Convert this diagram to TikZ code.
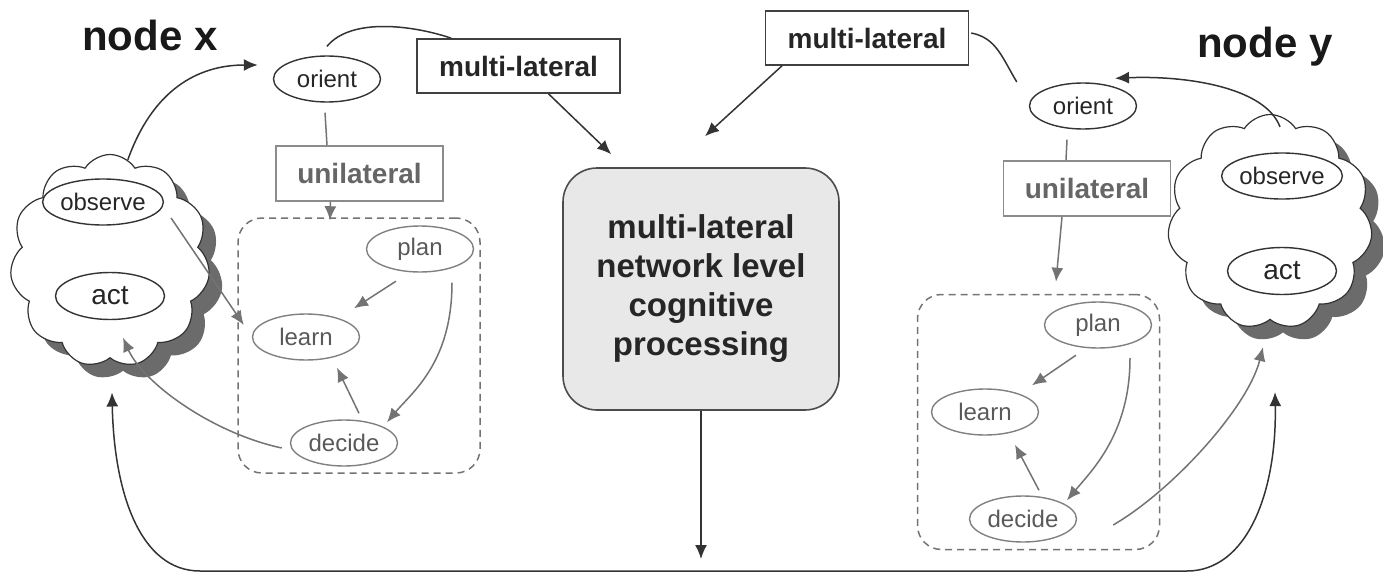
\documentclass[tikz,border=0pt]{standalone}
\usepackage{fontspec}
\setmainfont{Liberation Sans}
\usetikzlibrary{calc}
\usetikzlibrary{positioning}
\usetikzlibrary{arrows.meta}
\usetikzlibrary{shapes.geometric}
\usetikzlibrary{shapes.symbols}
\usetikzlibrary{shadows}

\begin{document}
\begin{tikzpicture}[x=0.5pt,y=-0.5pt,>={Latex[length=7pt,width=6pt]},
        blk/.style={draw=black!80,line width=0.75pt},
        gry/.style={draw=black!55,line width=0.75pt},
        oval/.style={ellipse,draw=black!80,line width=0.7pt,minimum width=53.5pt,minimum height=23pt,inner sep=0pt,font=\fontsize{12}{14}\selectfont,text=black!85},
        goval/.style={oval,draw=black!50,text=black!65},
        bigoval/.style={oval,minimum width=54.5pt,minimum height=23.5pt,font=\fontsize{14}{16}\selectfont},
        lbox/.style={rectangle,draw=black!75,line width=0.8pt,minimum width=101.5pt,minimum height=27pt,inner sep=0pt,font=\fontsize{14}{16}\selectfont\bfseries,text=black!85},
        ubox/.style={lbox,draw=black!45,text=black!60,minimum width=83.5pt,minimum height=27.5pt},
        cloudy/.style={cloud,cloud puffs=11,cloud puff arc=115,cloud ignores aspect,draw=black!80,line width=0.6pt,fill=white,inner sep=0pt,
            drop shadow={opacity=1,fill=black!58,shadow xshift=6.5pt,shadow yshift=-6.5pt}},
        dashbox/.style={rectangle,draw=black!55,dash pattern=on 3.5pt off 2.5pt,line width=0.75pt,rounded corners=12pt,minimum width=121pt,minimum height=127.5pt},
        title/.style={font=\fontsize{21}{24}\selectfont\bfseries,text=black!90,anchor=base}
    ]
    \useasboundingbox (0,0) rectangle (1383,573);

    % node x
    \node[cloudy,minimum width=100pt,minimum height=106.5pt] (cloudL) at (110,261) {};
    \node[oval] (observeL) at (103,202) {observe};
    \node[bigoval] (actL) at (110,296) {act};
    \node[oval] (orientL) at (327,79) {orient};
    \node[lbox] (mlL) at (518.5,66) {multi-lateral};
    \node[ubox] (uniL) at (359.5,173.5) {unilateral};
    \node[dashbox] (dashL) at (359,345.5) {};
    \node[goval] (planL) at (420,249) {plan};
    \node[goval] (learnL) at (306,337) {learn};
    \node[goval] (decideL) at (344,443) {decide};
    \node[title] (titleX) at (150,50) {node x};

    % node y
    \node[cloudy,minimum width=102.5pt,minimum height=107.5pt] (cloudR) at (1270,222) {};
    \node[oval] (observeR) at (1282,176) {observe};
    \node[bigoval] (actR) at (1282,271) {act};
    \node[oval] (orientR) at (1083,106) {orient};
    \node[lbox] (mlR) at (867,38) {multi-lateral};
    \node[ubox] (uniR) at (1087,188.5) {unilateral};
    \node[dashbox] (dashR) at (1038.5,422) {};
    \node[goval] (planR) at (1098,325) {plan};
    \node[goval] (learnR) at (985,412) {learn};
    \node[goval] (decideR) at (1023,519) {decide};
    \node[title] (titleY) at (1265,57) {node y};

    % network level
    \node[draw=black!70,line width=0.8pt,fill=black!9,rounded corners=17pt,minimum width=138pt,minimum height=121pt,
        align=center,font=\fontsize{16.5}{19.5}\selectfont\bfseries,text=black!85] (core) at (701,289)
        {multi-lateral\\network level\\cognitive\\processing};
    \coordinate (sink) at (701,559);
    \coordinate (cornerL) at (200,571);
    \coordinate (cornerR) at (1187,571);

    % left loop
    \draw[blk,->] (cloudL.80) .. controls +(25,-70) and +(-60,0) .. ($(orientL.west)+(-15,-14)$);
    \draw[blk] ($(orientL.north)+(0,-9)$) .. controls +(25,-30) and +(-35,-12) .. ($(mlL.north west)+(35,0)$);
    \draw[blk,->] ($(mlL.south)+(30,0)$) -- ($(core.north west)+(49,-13)$);
    \draw[gry] ($(orientL.south)+(-2,10)$) -- (orientL.south |- uniL.north);
    \draw[gry,->] ($(uniL.south)+(-29,0)$) -- ($(dashL.north)+(-29,3)$);
    \draw[gry,->] ($(observeL.east)+(7,16)$) -- ($(learnL.west)+(-8,-12)$);
    \draw[gry,->] ($(planL.south)+(-24,8.5)$) -- ($(learnL.north)+(48,-5)$);
    \draw[gry,->] ($(planL.south)+(32,10)$) .. controls +(0,80) and +(25,-30) .. ($(decideL.north)+(43,3)$);
    \draw[gry,->] ($(decideL.north)+(15,-6)$) -- ($(learnL.south)+(31,7)$);
    \draw[gry,->] ($(decideL.west)+(-8,5)$) .. controls +(-70,-15) and +(20,45) .. ($(actL.south)+(13,17.5)$);

    % right loop
    \draw[blk,->] ($(cloudR.north)+(10,13)$) .. controls +(-15,-40) and +(70,-3) .. ($(orientR.north)+(32,-4)$);
    \draw[blk] ($(mlR.east)+(2,-5)$) .. controls +(25,5) and +(-15,-25) .. ($(orientR.west)+(-12,-24)$);
    \draw[blk,->] ($(mlR.south)+(-85,0)$) -- ($(core.north)+(4,-31)$);
    \draw[gry] ($(orientR.south)+(-16,10)$) -- ($(uniR.north)+(-21,0)$);
    \draw[gry,->] ($(uniR.south)+(-25,0)$) -- ($(dashR.north)+(17.5,-12)$);
    \draw[gry,->] ($(planR.south)+(-22,6.5)$) -- ($(learnR.north)+(47,-3)$);
    \draw[gry,->] ($(planR.south)+(32,9.5)$) .. controls +(0,75) and +(25,-30) .. ($(decideR.north)+(44,5)$);
    \draw[gry,->] ($(decideR.north)+(16,-5)$) -- ($(learnR.south)+(30,9)$);
    \draw[gry,->] ($(decideR.east)+(36,6)$) .. controls +(60,-35) and +(-15,60) .. ($(cloudR.south)+(-7,27)$);

    % feedback
    \draw[blk,->] (core) -- (sink);
    \draw[blk,<->] ($(cloudL.south)+(2,34)$) .. controls +(2,100) and +(-60,0) .. (cornerL) -- (cornerR)
        .. controls +(60,0) and +(2,100) .. ($(cloudR.south)+(5,72)$);
\end{tikzpicture}
\end{document}
